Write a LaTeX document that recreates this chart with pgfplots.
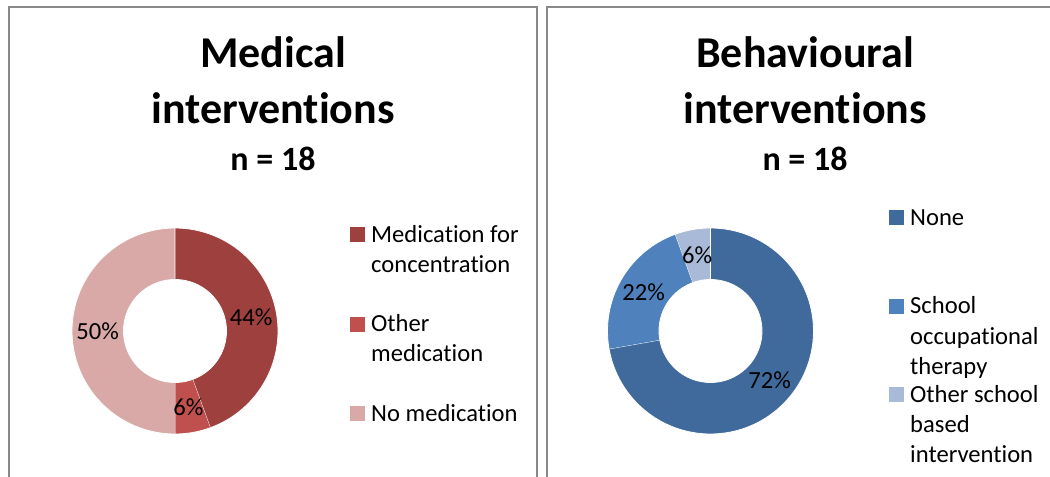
\documentclass[border=0pt]{standalone}
\usepackage{pgfplots}
\pgfplotsset{compat=1.18}
\usepackage{fontspec}
\setmainfont{Carlito}[Ligatures=NoCommon]

\definecolor{medconc}{RGB}{158,65,62}
\definecolor{medother}{RGB}{192,80,77}
\definecolor{mednone}{RGB}{217,169,168}
\definecolor{behnone}{RGB}{64,106,156}
\definecolor{behot}{RGB}{79,129,189}
\definecolor{behother}{RGB}{168,186,216}
\definecolor{framegray}{RGB}{137,137,137}

% ring radii (outer, inner, label)
\def\Ro{103}
\def\Ri{51.5}
\def\Rm{77.25}

\newcommand\lblfont{\fontsize{24.6bp}{30bp}\selectfont}
\newcommand\titlefont{\fontsize{44bp}{54bp}\selectfont\bfseries}
\newcommand\nfont{\fontsize{34bp}{40bp}\selectfont\bfseries}

% ring segment: centre x, centre y, count before, count, total, colour
% t in [0,1]: outer arc, [1,2]: radial edge, [2,3]: inner arc back
\newcommand\donutslice[6]{%
  \addplot[fill=#6, draw=white, line width=0.8bp, domain=0:3, samples=301, variable=\t]
   ({#1 + (\Ro-(\Ro-\Ri)*min(max(\t-1,0),1))*cos(90-360*((#3)+(#4)*(min(\t,1)-max(\t-2,0)))/(#5))},
    {#2 + (\Ro-(\Ro-\Ri)*min(max(\t-1,0),1))*sin(90-360*((#3)+(#4)*(min(\t,1)-max(\t-2,0)))/(#5))});
}

% percentage label in the middle of a segment: centre x, centre y, count before, count, total
\newcommand\donutlabel[5]{%
  \addplot[forget plot, only marks, mark=none, samples at={0}, variable=\t,
    point meta={100*(#4)/(#5)},
    nodes near coords={\pgfmathprintnumber[fixed,precision=0,assume math mode=true]{\pgfplotspointmeta}\%},
    nodes near coords style={anchor=center, inner sep=0pt, font=\lblfont, text=black}]
   ({#1 + \Rm*cos(90-360*((#3)+(#4)/2)/(#5))},
    {#2 + \Rm*sin(90-360*((#3)+(#4)/2)/(#5))});
}

\pgfplotsset{
  panel/.style={
    at={(0,0)}, anchor=south west,
    x=1bp, y=1bp, xmin=0, xmax=1050, ymin=0, ymax=477,
    hide axis, clip=false,
    legend cell align=left,
    legend image code/.code={\fill[##1, draw=none] (0bp,-7.5bp) rectangle (15bp,7.5bp);},
  },
}

\begin{document}
\begin{tikzpicture}
\path[use as bounding box] (0,0) rectangle (1050bp,477bp);

% ---------------- Medical interventions ----------------
\begin{axis}[panel,
  legend style={at={(0.33333,0.60220)}, anchor=north west, draw=none, fill=none,
    inner xsep=0pt, inner ysep=0pt, column sep=6bp, row sep=0pt, font=\lblfont,
    nodes={inner sep=0pt, font=\lblfont, text height=52.25bp, text depth=37.25bp}},
]
\draw[framegray, line width=1.6bp] (axis cs:9,-10) -- (axis cs:9,470) -- (axis cs:537,470) -- (axis cs:537,-10);
\node[anchor=base, font=\titlefont] at (axis cs:273,409) {Medical};
\node[anchor=base, font=\titlefont] at (axis cs:273,354) {interventions};
\node[anchor=base, font=\nfont] at (axis cs:273,307) {n = 18};

\donutslice{175}{146}{0}{8}{18}{medconc}
\addlegendentry{\parbox[t]{200bp}{\lblfont Medication for\\concentration}}
\donutslice{175}{146}{8}{1}{18}{medother}
\addlegendentry{\parbox[t]{200bp}{\lblfont Other\\medication}}
\donutslice{175}{146}{9}{9}{18}{mednone}
\addlegendentry{\parbox[t]{200bp}{\lblfont No medication}}

\donutlabel{175}{146}{0}{8}{18}
\donutlabel{175}{146}{8}{1}{18}
\donutlabel{175}{146}{9}{9}{18}
\end{axis}

% ---------------- Behavioural interventions ----------------
\begin{axis}[panel,
  legend style={at={(0.84667,0.63679)}, anchor=north west, draw=none, fill=none,
    inner xsep=0pt, inner ysep=0pt, column sep=6bp, row sep=0pt, font=\lblfont,
    nodes={inner sep=0pt, font=\lblfont, text height=51.75bp, text depth=36.75bp}},
]
\draw[framegray, line width=1.6bp] (axis cs:547,-10) -- (axis cs:547,470) -- (axis cs:1070,470);
\node[anchor=base, font=\titlefont] at (axis cs:805,409) {Behavioural};
\node[anchor=base, font=\titlefont] at (axis cs:805,354) {interventions};
\node[anchor=base, font=\nfont] at (axis cs:805,307) {n = 18};

\donutslice{710.5}{146}{0}{13}{18}{behnone}
\addlegendentry{\parbox[t]{200bp}{\fontsize{24.6bp}{30.5bp}\selectfont None}}
\donutslice{710.5}{146}{13}{4}{18}{behot}
\addlegendentry{\parbox[t]{200bp}{\fontsize{24.6bp}{30.5bp}\selectfont School\\occupational\\therapy}}
\donutslice{710.5}{146}{17}{1}{18}{behother}
\addlegendentry{\parbox[t]{200bp}{\fontsize{24.6bp}{30bp}\selectfont Other school\\based\\intervention}}

\donutlabel{710.5}{146}{0}{13}{18}
\donutlabel{710.5}{146}{13}{4}{18}
\donutlabel{710.5}{146}{17}{1}{18}
\end{axis}
\end{tikzpicture}
\end{document}
